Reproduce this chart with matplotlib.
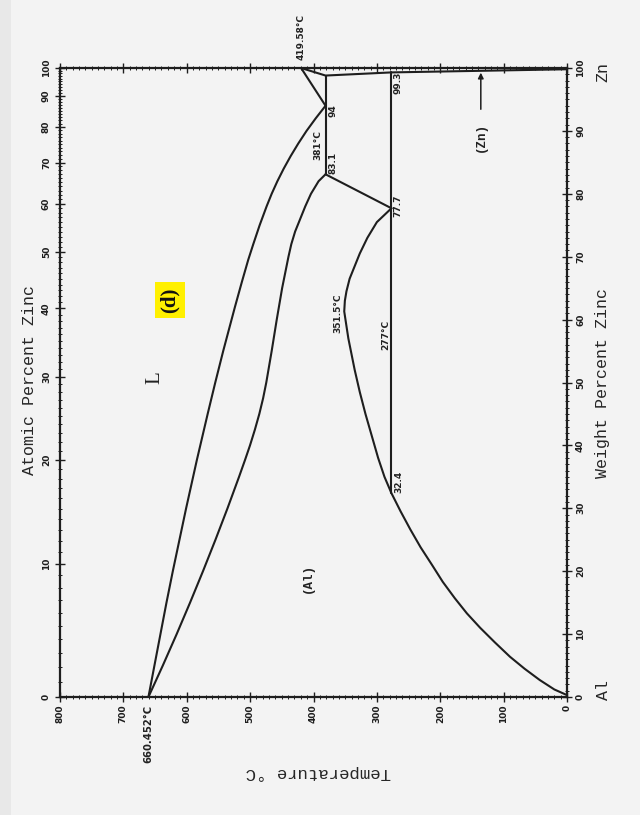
import numpy as np
import matplotlib
matplotlib.use("Agg")
import matplotlib.pyplot as plt
from matplotlib.patches import Rectangle

# ---------------- data (wt% Zn, temperature °C) ----------------
liq_wt = [0, 5, 10, 15, 20, 25, 30, 37.7, 45, 50, 55, 62, 66, 69.5, 72, 75, 78, 80, 82, 84, 86, 88, 90, 92, 94]
liq_T = [660.452, 651, 641.5, 632, 622, 611.5, 601, 584, 567, 555, 542.5, 524, 513, 503, 495, 485, 474, 466,
         457, 447, 436, 424, 411, 396.5, 381]

sol_wt = [0, 5, 10, 15, 20, 25, 30, 35, 37.7, 40, 42.5, 45, 47.5, 50, 55, 60, 65, 70, 72, 74, 76, 78, 80, 82, 83.1]
sol_T = [660.452, 637.8, 615.9, 594.8, 574.4, 554.7, 535.7, 517.5, 508, 500.2, 492.5, 485.5, 479.5, 474.5,
         466, 458, 449.5, 439.5, 435, 429, 421, 413, 404, 392, 381]

gap_wt = [0.3, 1.2, 2.7, 4.5, 6.4, 8.7, 11, 13.3, 15.7, 18.3, 21, 23.8, 26.6, 29.5, 32.4, 35, 38, 41.5, 45, 48.5,
          52, 55, 57, 59.3, 61.3, 63, 64.5, 66.5, 68, 70.5, 73, 75.5, 77.7]
gap_T = [0, 20, 43, 67, 90, 114, 137, 158, 177, 196, 213, 231, 247, 262.5, 277, 288, 298, 308, 318, 327,
         335, 341, 345, 348.5, 351.5, 350.5, 348, 343, 337, 327, 315, 300, 277]

alsolv_wt = [83.1, 77.7]
alsolv_T = [381, 277]

eut_wt = [83.1, 98.8]
eut_T = [381, 381]

eutd_wt = [32.4, 99.3]
eutd_T = [277, 277]

znliq_wt = [100, 94]
znliq_T = [419.58, 381]

znsol_wt = [100, 98.8, 99.3, 99.8]
znsol_T = [419.58, 381, 277, 0]

temp_ticks = [800, 700, 600, 500, 400, 300, 200, 100, 0]
wt_ticks = [0, 10, 20, 30, 40, 50, 60, 70, 80, 90, 100]
at_ticks = [0, 10, 20, 30, 40, 50, 60, 70, 80, 90, 100]

labels = [
    ("94", 369.0, 93.3),
    ("381°C", 392.9, 87.8),
    ("83.1", 370.0, 84.9),
    ("99.3", 267.0, 97.6),
    ("77.7", 267.0, 78.1),
    ("32.4", 265.0, 34.2),
    ("351.5°C", 361.3, 61.0),
    ("277°C", 285.6, 57.6),
]


def at2wt(a):
    a = np.asarray(a, dtype=float)
    return a * 65.38 / (a * 65.38 + (100 - a) * 26.98) * 100


W, H = 640, 830
fig = plt.figure(figsize=(W / 100, H / 100), dpi=100)
fig.patch.set_facecolor("#f3f3f3")
fig.patches.append(Rectangle((0, 0), 11 / W, 1, transform=fig.transFigure,
                             facecolor="#e8e8e8", edgecolor="none", zorder=0))
fig.patches.append(Rectangle((0, 0), 1, (H - 815) / H, transform=fig.transFigure,
                             facecolor="#ffffff", edgecolor="none", zorder=0))

x0, x1, ytop, ybot = 60, 567, 68, 697
ax = fig.add_axes([x0 / W, 1 - ybot / H, (x1 - x0) / W, (ybot - ytop) / H])
ax.set_facecolor("none")
ax.set_xlim(800, 0)
ax.set_ylim(0, 100)

# atomic percent axis (left) on a twin
ax2 = ax.twinx()
ax2.set_ylim(0, 100)

lc = "#1e1e1e"
lw = 1.5
kw = dict(color=lc, lw=lw, solid_joinstyle="round", solid_capstyle="round")
ax.plot(liq_T, liq_wt, **kw)
ax.plot(sol_T, sol_wt, **kw)
ax.plot(gap_T, gap_wt, **kw)
ax.plot(alsolv_T, alsolv_wt, **kw)
ax.plot(eut_T, eut_wt, **kw)
ax.plot(eutd_T, eutd_wt, **kw)
ax.plot(znliq_T, znliq_wt, **kw)
ax.plot(znsol_T, znsol_wt, **kw)

for s in ax.spines.values():
    s.set_linewidth(1.6)
    s.set_color(lc)
for s in ax2.spines.values():
    s.set_visible(False)

small = dict(family=["Liberation Sans Narrow", "DejaVu Sans"], fontweight="bold", fontsize=6.5, color="#222222")

# temperature axis (bottom labels, top ticks)
ax.set_xticks(temp_ticks)
ax.set_xticklabels([str(t) for t in temp_ticks], rotation=90, **small)
ax.set_xticks(np.arange(0, 801, 10), minor=True)
ax.tick_params(axis="x", which="major", direction="inout", length=7, width=1.0, top=True, pad=2, colors=lc)
ax.tick_params(axis="x", which="minor", direction="inout", length=3, width=0.7, top=True, colors=lc)

# weight percent (right)
ax.set_yticks(wt_ticks)
ax.set_yticklabels([str(v) for v in wt_ticks], rotation=90, va="center", **small)
ax.set_yticks(np.arange(0, 101, 1), minor=True)
ax.tick_params(axis="y", which="both", left=False, labelleft=False, right=True, labelright=True)
ax.tick_params(axis="y", which="major", direction="inout", length=7, width=1.0, pad=3, colors=lc)
ax.tick_params(axis="y", which="minor", direction="inout", length=3, width=0.7, colors=lc)

# atomic percent (left)
ax2.set_yticks(at2wt(at_ticks))
ax2.set_yticklabels([str(v) for v in at_ticks], rotation=90, va="center", **small)
ax2.set_yticks(at2wt(np.arange(1, 100, 1)), minor=True)
ax2.tick_params(axis="y", which="both", left=True, labelleft=True, right=False, labelright=False)
ax2.tick_params(axis="y", which="major", direction="inout", length=7, width=1.0, pad=3, colors=lc)
ax2.tick_params(axis="y", which="minor", direction="inout", length=3, width=0.7, colors=lc)

# point labels
for txt, T, w in labels:
    ax.text(T, w, txt, rotation=90, ha="center", va="center", **small)

ax.text(660.452, -1.3, "660.452°C", rotation=90, ha="center", va="top", clip_on=False,
        family=["Liberation Sans Narrow", "DejaVu Sans"], fontweight="bold", fontsize=7.2, color="#222222")
ax.text(419.58, 101.3, "419.58°C", rotation=90, ha="center", va="bottom", clip_on=False, **small)

ax.text(650, 50.7, "L", rotation=90, ha="center", va="center",
        family="Liberation Serif", fontsize=15, color="#222222")
ax.text(408.7, 18.9, "(Al)", rotation=90, ha="center", va="center",
        family=["Liberation Mono", "DejaVu Sans Mono"], fontsize=9, fontweight="bold", color="#222222")
ax.text(136, 89.0, "(Zn)", rotation=90, ha="center", va="center",
        family=["Liberation Mono", "DejaVu Sans Mono"], fontsize=9, fontweight="bold", color="#222222")
ax.annotate("", xy=(136, 99.7), xytext=(136, 93.0),
            arrowprops=dict(arrowstyle="-|>", color=lc, lw=1.1, mutation_scale=8))

ax.text(626.4, 63.1, "(d)", rotation=90, ha="center", va="center",
        family="Liberation Serif", fontsize=15, fontweight="bold", color="#111111",
        bbox=dict(boxstyle="square,pad=0.25", facecolor="#fff000", edgecolor="none"))

title_font = dict(family=["Liberation Mono", "DejaVu Sans Mono"], fontsize=12, color="#262626")
fig.text(30 / W, 1 - 380 / H, "Atomic Percent Zinc", rotation=90, ha="center", va="center", **title_font)
fig.text(603 / W, 1 - 383 / H, "Weight Percent Zinc", rotation=90, ha="center", va="center", **title_font)
fig.text(318 / W, 1 - 772 / H, "Temperature °C", rotation=180, ha="center", va="center",
         family=["Liberation Mono", "DejaVu Sans Mono"], fontsize=12.5, color="#262626")
fig.text(603 / W, 1 - 72 / H, "Zn", rotation=90, ha="center", va="center", **title_font)
fig.text(603 / W, 1 - 690 / H, "Al", rotation=90, ha="center", va="center", **title_font)

fig.savefig("out.png", dpi=100, facecolor=fig.get_facecolor())
